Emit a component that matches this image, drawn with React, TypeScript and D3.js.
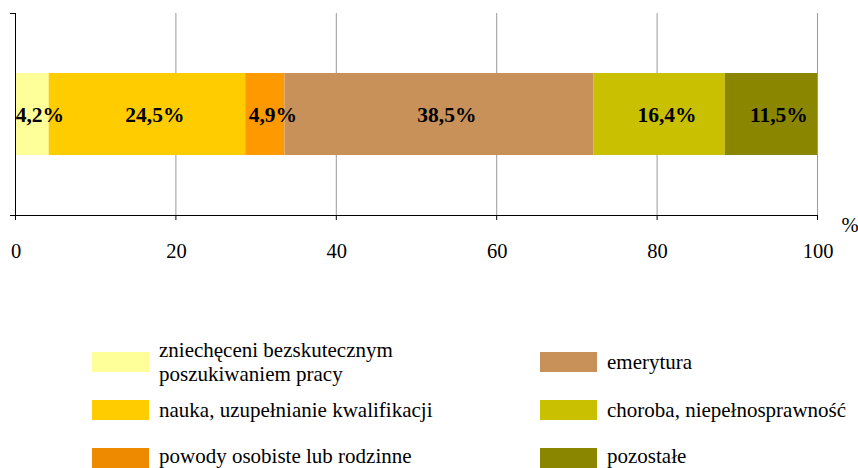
import React from "react";
import * as d3 from "d3";

const categories = [
  "zniechęceni bezskutecznym poszukiwaniem pracy",
  "nauka, uzupełnianie kwalifikacji",
  "powody osobiste lub rodzinne",
  "emerytura",
  "choroba, niepełnosprawność",
  "pozostałe",
];
const values = [4.2, 24.5, 4.9, 38.5, 16.4, 11.5];
const valueLabels = ["4,2%", "24,5%", "4,9%", "38,5%", "16,4%", "11,5%"];
const colors = ["#FFFF99", "#FFCC00", "#FF9900", "#C8915A", "#C8C000", "#8A8600"];
const legendColors = ["#FFFF99", "#FFCC00", "#EE8A00", "#C8915A", "#C8C000", "#8A8600"];
const legendLines = [
  ["zniechęceni bezskutecznym", "poszukiwaniem pracy"],
  ["nauka, uzupełnianie kwalifikacji"],
  ["powody osobiste lub rodzinne"],
  ["emerytura"],
  ["choroba, niepełnosprawność"],
  ["pozostałe"],
];
const ticks = [0, 20, 40, 60, 80, 100];

const FONT = "'Liberation Serif', 'Times New Roman', Times, serif";

export default function App() {
  const W = 858, H = 468;
  const x = d3.scaleLinear().domain([0, 100]).range([15, 817]);
  const top = 13, bottom = 215;
  const y = d3.scaleBand().domain(["a"]).range([top, bottom]).paddingInner(0).paddingOuter(0.732);
  const starts = d3.cumsum([0, ...values.slice(0, -1)]);
  const by = y("a")!, bh = y.bandwidth();
  return (
    <svg width={W} height={H} style={{ position: "absolute", left: 0, top: 0, fontFamily: FONT }}>
      <rect width={W} height={H} fill="#fff" />
      {ticks.slice(1).map((t) => (
        <line key={"g" + t} x1={x(t) + 0.5} x2={x(t) + 0.5} y1={top} y2={bottom} stroke="#999" strokeWidth={1} />
      ))}
      {values.map((v, i) => (
        <rect key={"b" + i} x={x(starts[i])} y={by} width={x(starts[i] + v) - x(starts[i])} height={bh} fill={colors[i]} />
      ))}
      {values.map((v, i) => (
        <text key={"l" + i} x={(x(starts[i]) + x(starts[i] + v)) / 2 + 8} y={by + bh / 2} dy="0.35em"
          textAnchor="middle" fontWeight="bold" fontSize={21.5} fill="#000">{valueLabels[i]}</text>
      ))}
      <line x1={15.5} x2={15.5} y1={top} y2={bottom} stroke="#000" />
      <line x1={10} x2={15.5} y1={top + 0.5} y2={top + 0.5} stroke="#000" />
      <line x1={10} x2={x(100)} y1={bottom + 0.5} y2={bottom + 0.5} stroke="#000" />
      {ticks.map((t) => (
        <g key={"t" + t}>
          <line x1={x(t) + 0.5} x2={x(t) + 0.5} y1={bottom} y2={bottom + 5} stroke="#000" />
          <text x={x(t) + 1} y={258} textAnchor="middle" fontSize={20.5}>{t}</text>
        </g>
      ))}
      <text x={850} y={232} textAnchor="middle" fontSize={20.5}>%</text>
      {categories.map((c, i) => {
        const col = Math.floor(i / 3), row = i % 3;
        const sx = col === 0 ? 92 : 540;
        const sy = 352 + row * 48;
        const lines = legendLines[i];
        const cy = sy + 10 - (row === 2 ? 1.5 : 0);
        return (
          <g key={"lg" + i}>
            <rect x={sx} y={sy} width={57} height={20} fill={legendColors[i]} />
            {lines.map((ln, j) => (
              <text key={j} x={sx + 67} y={cy + (j - (lines.length - 1) / 2) * 24} dy="0.33em" fontSize={21}>{ln}</text>
            ))}
          </g>
        );
      })}
    </svg>
  );
}
